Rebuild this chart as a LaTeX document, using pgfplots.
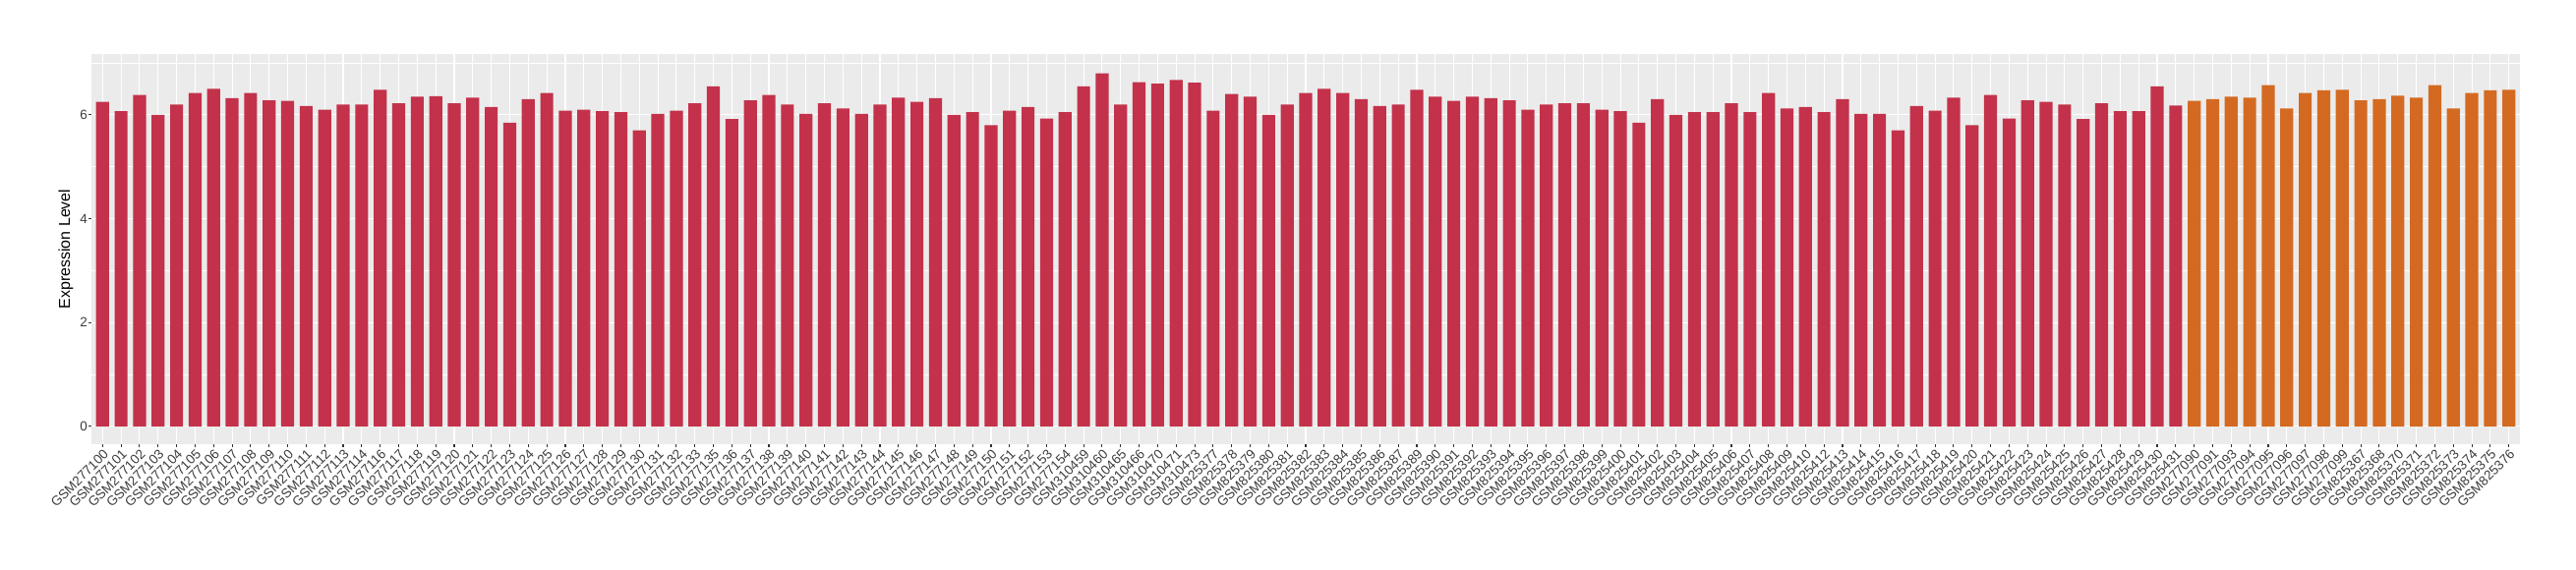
\documentclass[border=0pt]{standalone}
\usepackage{pgfplots}
\pgfplotsset{compat=1.18}
\usepackage{fontspec}
\setmainfont{Liberation Sans}
\definecolor{barred}{RGB}{195,50,74}
\definecolor{barorange}{RGB}{212,106,33}
\definecolor{panelbg}{RGB}{235,235,235}
\definecolor{tickcol}{RGB}{51,51,51}
\definecolor{labcol}{RGB}{60,60,60}
\pgfplotstableread{
x y
0 6.25
1 6.07
2 6.38
3 6.00
4 6.20
5 6.42
6 6.50
7 6.32
8 6.42
9 6.28
10 6.27
11 6.17
12 6.10
13 6.20
14 6.20
15 6.48
16 6.22
17 6.35
18 6.36
19 6.22
20 6.33
21 6.15
22 5.85
23 6.30
24 6.42
25 6.08
26 6.10
27 6.07
28 6.05
29 5.70
30 6.02
31 6.08
32 6.22
33 6.55
34 5.92
35 6.28
36 6.38
37 6.20
38 6.02
39 6.22
40 6.12
41 6.02
42 6.20
43 6.33
44 6.25
45 6.32
46 6.00
47 6.05
48 5.80
49 6.08
50 6.15
51 5.93
52 6.05
53 6.55
54 6.80
55 6.20
56 6.63
57 6.60
58 6.67
59 6.62
60 6.08
61 6.40
62 6.35
63 6.00
64 6.20
65 6.42
66 6.50
67 6.42
68 6.30
69 6.17
70 6.20
71 6.48
72 6.35
73 6.27
74 6.35
75 6.32
76 6.28
77 6.10
78 6.20
79 6.22
80 6.22
81 6.10
82 6.07
83 5.85
84 6.30
85 6.00
86 6.05
87 6.05
88 6.22
89 6.05
90 6.42
91 6.12
92 6.15
93 6.05
94 6.30
95 6.02
96 6.02
97 5.70
98 6.17
99 6.08
100 6.33
101 5.80
102 6.38
103 5.93
104 6.28
105 6.25
106 6.20
107 5.92
108 6.22
109 6.07
110 6.07
111 6.55
112 6.18
}\redtab
\pgfplotstableread{
x y
113 6.27
114 6.30
115 6.35
116 6.33
117 6.57
118 6.12
119 6.42
120 6.47
121 6.48
122 6.28
123 6.30
124 6.37
125 6.33
126 6.57
127 6.12
128 6.42
129 6.47
130 6.48
}\orangetab
\begin{document}
\begin{tikzpicture}
\useasboundingbox (0,0) rectangle (2620pt,580pt);
\begin{axis}[
  at={(93pt,128pt)}, anchor=south west,
  scale only axis, width=2470pt, height=397pt,
  xmin=-0.6, xmax=130.6, ymin=-0.342, ymax=7.17,
  axis background/.style={fill=panelbg},
  axis line style={draw=none},
  /pgf/number format/assume math mode=true,
  ytick={0,2,4,6}, minor ytick={1,3,5,7},
  xtick={0,...,130},
  xtick pos=lower, ytick pos=left,
  xticklabels={GSM277100,GSM277101,GSM277102,GSM277103,GSM277104,GSM277105,GSM277106,GSM277107,GSM277108,GSM277109,GSM277110,GSM277111,GSM277112,GSM277113,GSM277114,GSM277116,GSM277117,GSM277118,GSM277119,GSM277120,GSM277121,GSM277122,GSM277123,GSM277124,GSM277125,GSM277126,GSM277127,GSM277128,GSM277129,GSM277130,GSM277131,GSM277132,GSM277133,GSM277135,GSM277136,GSM277137,GSM277138,GSM277139,GSM277140,GSM277141,GSM277142,GSM277143,GSM277144,GSM277145,GSM277146,GSM277147,GSM277148,GSM277149,GSM277150,GSM277151,GSM277152,GSM277153,GSM277154,GSM310459,GSM310460,GSM310465,GSM310466,GSM310470,GSM310471,GSM310473,GSM825377,GSM825378,GSM825379,GSM825380,GSM825381,GSM825382,GSM825383,GSM825384,GSM825385,GSM825386,GSM825387,GSM825389,GSM825390,GSM825391,GSM825392,GSM825393,GSM825394,GSM825395,GSM825396,GSM825397,GSM825398,GSM825399,GSM825400,GSM825401,GSM825402,GSM825403,GSM825404,GSM825405,GSM825406,GSM825407,GSM825408,GSM825409,GSM825410,GSM825412,GSM825413,GSM825414,GSM825415,GSM825416,GSM825417,GSM825418,GSM825419,GSM825420,GSM825421,GSM825422,GSM825423,GSM825424,GSM825425,GSM825426,GSM825427,GSM825428,GSM825429,GSM825430,GSM825431,GSM277090,GSM277091,GSM277093,GSM277094,GSM277095,GSM277096,GSM277097,GSM277098,GSM277099,GSM825367,GSM825368,GSM825370,GSM825371,GSM825372,GSM825373,GSM825374,GSM825375,GSM825376},
  grid=both,
  major grid style={white, line width=1.1pt},
  minor grid style={white, line width=0.55pt},
  tick align=outside,
  major tick length=3pt, minor tick length=0pt,
  tick style={color=tickcol, line width=1.1pt},
  xticklabel style={rotate=45, anchor=north east, inner sep=1pt, font=\fontsize{13.5}{13.5}\selectfont, text=labcol},
  yticklabel style={font=\fontsize{13.5}{13.5}\selectfont, text=labcol, inner sep=1pt},
  ylabel={Expression Level},
  ylabel style={at={(axis description cs:-0.0105,0.5)}, anchor=center, font=\fontsize{16}{16}\selectfont, text=black},
]
\addplot[ybar, bar width=0.7, bar shift=0pt, fill=barred, draw=none] table[x=x,y=y] {\redtab};
\addplot[ybar, bar width=0.7, bar shift=0pt, fill=barorange, draw=none] table[x=x,y=y] {\orangetab};
\end{axis}
\end{tikzpicture}
\end{document}
